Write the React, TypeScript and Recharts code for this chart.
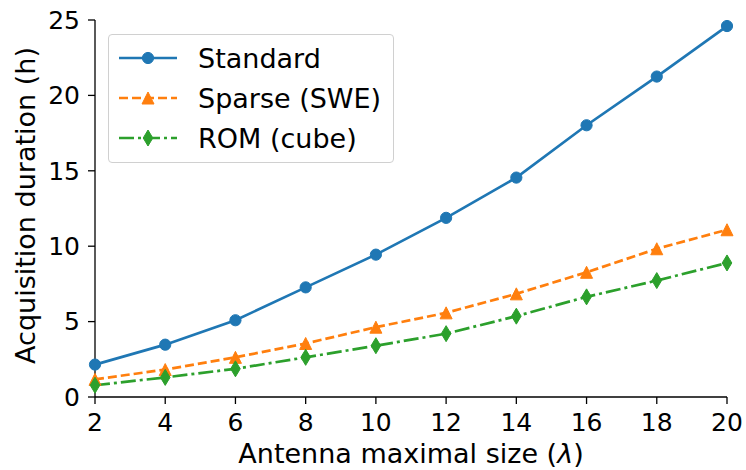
import { LineChart, Line, XAxis, YAxis, Legend } from 'recharts';

const sizes = [2, 4, 6, 8, 10, 12, 14, 16, 18, 20];
const standard = [2.15, 3.47, 5.09, 7.27, 9.44, 11.88, 14.55, 18.02, 21.25, 24.6];
const sparse = [1.17, 1.82, 2.63, 3.55, 4.63, 5.58, 6.84, 8.27, 9.83, 11.09];
const rom = [0.78, 1.3, 1.87, 2.63, 3.4, 4.2, 5.36, 6.64, 7.72, 8.89];

const xTicks = [2, 4, 6, 8, 10, 12, 14, 16, 18, 20];
const yTicks = [0, 5, 10, 15, 20, 25];

const BLUE = '#1f77b4';
const ORANGE = '#ff7f0e';
const GREEN = '#2ca02c';
const FONT = '"DejaVu Sans", sans-serif';
const TICK_FS = 25;
const LABEL_FS = 27;

const data = sizes.map((s, i) => ({
  size: s,
  standard: standard[i],
  sparse: sparse[i],
  rom: rom[i],
}));

// marker shapes, matplotlib style
function Circle({ cx, cy, color }: { cx: number; cy: number; color: string }) {
  return <circle cx={cx} cy={cy} r={5.6} fill={color} stroke={color} strokeWidth={1} />;
}
function Triangle({ cx, cy, color }: { cx: number; cy: number; color: string }) {
  const h = 6;
  return (
    <polygon
      points={`${cx},${cy - h} ${cx - h},${cy + h} ${cx + h},${cy + h}`}
      fill={color}
      stroke={color}
      strokeWidth={1}
    />
  );
}
function Diamond({ cx, cy, color }: { cx: number; cy: number; color: string }) {
  return (
    <polygon
      points={`${cx},${cy - 8} ${cx + 4.8},${cy} ${cx},${cy + 8} ${cx - 4.8},${cy}`}
      fill={color}
      stroke={color}
      strokeWidth={1}
    />
  );
}

const series = [
  { key: 'standard', name: 'Standard', color: BLUE, dash: undefined, Marker: Circle },
  { key: 'sparse', name: 'Sparse (SWE)', color: ORANGE, dash: '9 4', Marker: Triangle },
  { key: 'rom', name: 'ROM (cube)', color: GREEN, dash: '15 4 3 4', Marker: Diamond },
];

// zero-size wrapper so the legend does not shrink the plot area
function LegendBox() {
  return (
    <div style={{ position: 'relative', width: 0, height: 0 }}>
      <div
        style={{
          position: 'absolute',
          left: 0,
          top: 0,
          width: 284,
          height: 127,
          border: '1px solid #d0d0d0',
          borderRadius: 4,
          background: 'rgba(255,255,255,0.8)',
          fontFamily: FONT,
          fontSize: LABEL_FS,
          color: '#000',
        }}
      >
        {series.map((s, i) => (
          <div
            key={s.key}
            style={{ position: 'absolute', left: 0, top: 3 + i * 40, height: 40, display: 'flex', alignItems: 'center', whiteSpace: 'nowrap' }}
          >
            <svg width={80} height={40} style={{ marginLeft: 9 }}>
              <line x1={1} y1={20} x2={59} y2={20} stroke={s.color} strokeWidth={2.7} strokeDasharray={s.dash} />
              <s.Marker cx={30} cy={20} color={s.color} />
            </svg>
            <span>{s.name}</span>
          </div>
        ))}
      </div>
    </div>
  );
}

function YLabel({ viewBox }: any) {
  const cy = viewBox.y + viewBox.height / 2 - 3;
  return (
    <text x={35} y={cy} transform={`rotate(-90 35 ${cy})`} textAnchor="middle"
      fontFamily={FONT} fontSize={LABEL_FS} fill="#000">
      Acquisition duration (h)
    </text>
  );
}

function XLabel({ viewBox }: any) {
  const cx = viewBox.x + viewBox.width / 2;
  return (
    <text x={cx} y={463} textAnchor="middle" fontFamily={FONT} fontSize={LABEL_FS} fill="#000">
      Antenna maximal size (<tspan fontStyle="italic">λ</tspan>)
    </text>
  );
}

export default function App() {
  const tick = { fill: '#000', fontSize: TICK_FS, fontFamily: FONT };
  return (
    <div style={{ position: 'absolute', left: 0, top: 0, background: '#fff' }}>
      <LineChart width={746} height={470} data={data} margin={{ top: 20, right: 19, left: 35, bottom: 43 }}>
        <XAxis
          dataKey="size"
          type="number"
          domain={[2, 20]}
          ticks={xTicks}
          height={30}
          stroke="#000"
          strokeWidth={1.3}
          tickLine={{ stroke: '#000' }}
          tickSize={7}
          tickMargin={9}
          tick={tick}
          label={<XLabel />}
        />
        <XAxis xAxisId="top" dataKey="size" type="number" domain={[2, 20]} orientation="top" height={0}
          tick={false} tickLine={false} stroke="#000" strokeWidth={1.3} />
        <YAxis
          type="number"
          domain={[0, 25]}
          ticks={yTicks}
          width={60}
          stroke="#000"
          strokeWidth={1.3}
          tickLine={{ stroke: '#000' }}
          tickSize={7}
          tickMargin={8}
          tick={tick}
          label={<YLabel />}
        />
        <YAxis yAxisId="right" orientation="right" width={0} domain={[0, 25]} tick={false} tickLine={false}
          stroke="#000" strokeWidth={1.3} />
        <Legend
          layout="vertical"
          verticalAlign="top"
          align="left"
          wrapperStyle={{ left: 108, top: 34 }}
          content={() => <LegendBox />}
        />
        {series.map((s) => (
          <Line
            key={s.key}
            dataKey={s.key}
            name={s.name}
            stroke={s.color}
            strokeWidth={2.7}
            strokeDasharray={s.dash}
            isAnimationActive={false}
            dot={(p: any) => <s.Marker key={`${s.key}-${p.index}`} cx={p.cx} cy={p.cy} color={s.color} />}
            activeDot={false}
          />
        ))}
      </LineChart>
    </div>
  );
}
